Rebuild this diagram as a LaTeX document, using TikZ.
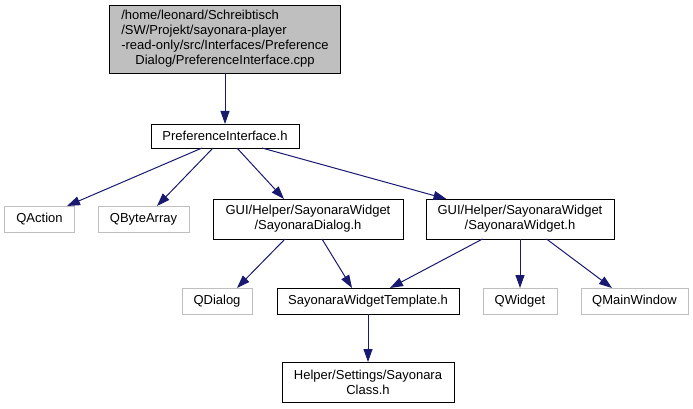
\documentclass[tikz,border=0pt]{standalone}
\usepackage{fontspec}
\setmainfont{Liberation Sans}
\usetikzlibrary{arrows.meta,calc}
\definecolor{edgeblue}{HTML}{191970}
\definecolor{extgray}{HTML}{BFBFBF}
\begin{document}
\begin{tikzpicture}[x=1pt,y=-1pt,
  every node/.style={font=\fontsize{13}{15}\selectfont, inner sep=0pt, outer sep=0pt},
  filebox/.style={draw=black, line width=0.9pt, fill=white, minimum height=#1, align=center},
  filebox/.default=24,
  extbox/.style={draw=extgray, line width=0.9pt, fill=white, minimum height=26},
  rootbox/.style={draw=black, line width=0.9pt, fill=extgray},
  dep/.style={draw=edgeblue, line width=1pt, -{Triangle[length=13pt,width=9pt]}}]
\useasboundingbox (0,0) rectangle (693,409);
\node[rootbox, minimum width=231, minimum height=68] (root) at (225,39)
  {\begin{tabular}{@{}l@{}}/home/leonard/Schreibtisch\\/SW/Projekt/sayonara-player\\-read-only/src/Interfaces/Preference\\\multicolumn{1}{@{}c@{}}{Dialog/PreferenceInterface.cpp}\end{tabular}};
\node[filebox, minimum width=148] (pi) at (225,136) {PreferenceInterface.h};
\node[extbox, minimum width=70] (qaction) at (39.5,219) {QAction};
\node[extbox, minimum width=91] (qbyte) at (143.5,219) {QByteArray};
\node[filebox=40, minimum width=190] (sdlg) at (308,219) {GUI/Helper/SayonaraWidget\\/SayonaraDialog.h};
\node[filebox=40, minimum width=188] (swid) at (520,219) {GUI/Helper/SayonaraWidget\\/SayonaraWidget.h};
\node[extbox, minimum width=70] (qdialog) at (217,301) {QDialog};
\node[filebox=26, minimum width=182] (swt) at (368,301) {SayonaraWidgetTemplate.h};
\node[extbox, minimum width=74] (qwidget) at (520,301) {QWidget};
\node[extbox, minimum width=107] (qmain) at (634.5,301) {QMainWindow};
\node[filebox=40, minimum width=172] (scls) at (368,382) {Helper/Settings/Sayonara\\Class.h};

\draw[dep] (root.south) -- (pi.north);
\draw[dep] ([xshift=51pt]pi.south west) -- ([xshift=62.5pt]qaction.north west);
\draw[dep] ([xshift=62pt]pi.south west) -- ([xshift=59pt]qbyte.north west);
\draw[dep] ([xshift=86pt]pi.south west) -- ([xshift=71pt]sdlg.north west);
\draw[dep] ([xshift=111pt]pi.south west) -- ([xshift=20.5pt]swid.north west);
\draw[dep] ([xshift=72pt]sdlg.south west) -- ([xshift=55pt]qdialog.north west);
\draw[dep] ([xshift=109pt]sdlg.south west) -- ([xshift=75pt]swt.north west);
\draw[dep] ([xshift=56.5pt]swid.south west) -- ([xshift=113pt]swt.north west);
\draw[dep] (swid.south) -- (qwidget.north);
\draw[dep] ([xshift=120.5pt]swid.south west) -- ([xshift=31pt]qmain.north west);
\draw[dep] (swt.south) -- (scls.north);
\end{tikzpicture}
\end{document}
